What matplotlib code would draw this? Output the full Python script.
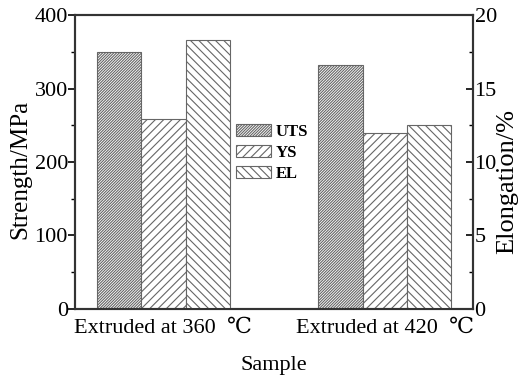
import matplotlib
matplotlib.use('Agg')
import matplotlib.pyplot as plt
import numpy as np
from matplotlib.ticker import MultipleLocator

plt.rcParams['font.family'] = ['Liberation Serif', 'DejaVu Serif']
plt.rcParams['hatch.linewidth'] = 0.8
plt.rcParams['hatch.color'] = '#555555'

samples = ['Extruded at 360  \u2103', 'Extruded at 420  \u2103']
uts = [350, 332]
ys = [259, 239]
el = [18.3, 12.5]

x = np.arange(len(samples))
w = 0.2

fig = plt.figure(figsize=(5.2, 3.78), dpi=100)
ax = fig.add_axes([0.144, 0.183, 0.766, 0.777])
ax2 = ax.twinx()

b1 = ax.bar(x - w, uts, w, color='white', edgecolor='#666666', hatch='////////////', linewidth=0.8, label='UTS')
b2 = ax.bar(x, ys, w, color='white', edgecolor='#666666', hatch='////', linewidth=0.8, label='YS')
b3 = ax2.bar(x + w, el, w, color='white', edgecolor='#666666', hatch='\\\\\\\\', linewidth=0.8, label='EL')

ax.set_xlim(-0.4, 1.4)
ax.set_ylim(0, 400)
ax2.set_ylim(0, 20)
ax.set_xticks(x)
ax.set_xticklabels(samples, fontsize=16)
ax.tick_params(axis='x', length=0, pad=7)
ax.yaxis.set_major_locator(MultipleLocator(100))
ax.yaxis.set_minor_locator(MultipleLocator(50))
ax.tick_params(axis='y', which='major', direction='out', length=5, width=1.2, labelsize=16, pad=0)
ax.tick_params(axis='y', which='minor', direction='out', length=3, width=1.0)
ax2.yaxis.set_major_locator(MultipleLocator(5))
ax2.yaxis.set_minor_locator(MultipleLocator(2.5))
ax2.tick_params(axis='y', which='major', direction='in', length=5, width=1.2, labelsize=16, pad=1)
ax2.tick_params(axis='y', which='minor', direction='in', length=3, width=1.0)

for a in (ax, ax2):
    for s in a.spines.values():
        s.set_linewidth(1.5)
        s.set_color('#333333')

ax.set_xlabel('Sample', fontsize=16, labelpad=13)
ax.set_ylabel('Strength/MPa', fontsize=18)
ax.yaxis.set_label_coords(-0.108, 0.473)
ax2.set_ylabel('Elongation/%', fontsize=19)
ax2.yaxis.set_label_coords(1.058, 0.435)

ax.legend([b1, b2, b3], ['UTS', 'YS', 'EL'], loc='center', bbox_to_anchor=(0.495, 0.53),
          frameon=False, prop={'weight': 'bold', 'size': 12}, handlelength=2.1,
          handleheight=0.7, handletextpad=0.3, labelspacing=0.3)

fig.savefig('out.png', dpi=100)
